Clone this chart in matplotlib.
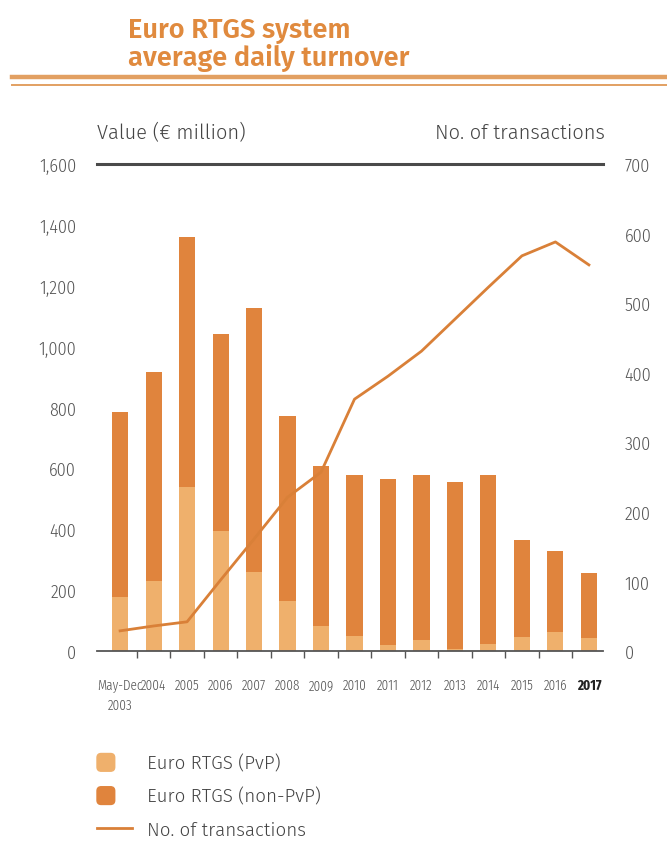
import matplotlib
matplotlib.use("Agg")
import matplotlib.pyplot as plt
from matplotlib.patches import Patch, FancyBboxPatch
from matplotlib.lines import Line2D
from matplotlib.legend_handler import HandlerPatch
import numpy as np

categories = ["May-Dec\n2003", "2004", "2005", "2006", "2007", "2008", "2009", "2010",
              "2011", "2012", "2013", "2014", "2015", "2016", "2017"]
total_value = [785, 917, 1360, 1041, 1127, 772, 608, 578, 565, 578, 555, 578, 365, 329, 256]
pvp_value = [177, 230, 539, 394, 259, 164, 82, 49, 20, 36, 8, 23, 46, 62, 43]
transactions = [29, 36, 42, 102, 161, 221, 257, 362, 395, 431, 477, 523, 568, 588, 555]
left_ticks = [0, 200, 400, 600, 800, 1000, 1200, 1400, 1600]
right_ticks = [0, 100, 200, 300, 400, 500, 600, 700]

non_pvp_value = [t - p for t, p in zip(total_value, pvp_value)]

C_PVP = "#EFB06C"
C_NON = "#E0843D"
C_LINE = "#D98038"
C_TITLE = "#E08A3E"
C_RULE = "#E2A062"
C_TXT = "#555555"

plt.rcParams["font.family"] = ["Fira Sans Condensed", "DejaVu Sans"]
F_TICK = dict(family=["Fira Sans Condensed", "DejaVu Sans"], weight=300)
F_XT = dict(family=["Fira Sans Extra Condensed", "DejaVu Sans"], weight=300)
F_LAB = dict(family=["Fira Sans", "DejaVu Sans"], weight=300)

fig = plt.figure(figsize=(6.67, 8.54), dpi=100)
ax = fig.add_axes([0.1454, 0.2365, 0.7586, 0.5703])

x = np.arange(len(categories))
w = 0.48
ax.bar(x, pvp_value, width=w, color=C_PVP, zorder=2)
ax.bar(x, non_pvp_value, width=w, bottom=pvp_value, color=C_NON, zorder=2)

ax.set_xlim(-0.69, len(categories) - 1 + 0.42)
ax.set_ylim(0, 1600)
ax.set_yticks(left_ticks)
ax.set_yticklabels([f"{v:,}" for v in left_ticks], **F_TICK)
ax.tick_params(axis="y", length=0, pad=15, labelsize=13, labelcolor=C_TXT)

ax.set_xticks(x)
ax.set_xticklabels(categories, linespacing=1.5, **F_XT)
ax.set_xticks(x[:-1] + 0.5, minor=True)
ax.tick_params(axis="x", which="major", length=0, pad=19, labelsize=10.3, labelcolor=C_TXT)
ax.tick_params(axis="x", which="minor", length=5, width=1.0, color="#555555", direction="out")
labs = ax.get_xticklabels()
labs[-1].set_fontweight("bold")
labs[-1].set_color("#222222")

for s in ["top", "left", "right"]:
    ax.spines[s].set_visible(False)
ax.spines["bottom"].set_color("#555555")
ax.spines["bottom"].set_linewidth(1.3)
ax.axhline(1600, color="#4A4A4A", lw=2.2, clip_on=False, zorder=3)

ax2 = ax.twinx()
ax2.plot(x, transactions, color=C_LINE, lw=2.0, zorder=4)
ax2.set_ylim(0, 700)
ax2.set_yticks(right_ticks)
ax2.set_yticklabels([str(v) for v in right_ticks], **F_TICK)
ax2.tick_params(axis="y", length=0, pad=15.5, labelsize=13, labelcolor=C_TXT)
for s in ["top", "left", "right", "bottom"]:
    ax2.spines[s].set_visible(False)

# axis titles
fig.text(97 / 667, 1 - 133 / 854, "Value (€ million)", fontsize=14.5, color="#444444",
         ha="left", va="center", **F_LAB)
fig.text(605 / 667, 1 - 133 / 854, "No. of transactions", fontsize=14.5, color="#444444",
         ha="right", va="center", **F_LAB)

# title block
F_TITLE = dict(family=["Fira Sans", "DejaVu Sans"], weight=600)
fig.text(128 / 667, 1 - 31 / 854, "Euro RTGS system", fontsize=19.6, color=C_TITLE,
         ha="left", va="center", **F_TITLE)
fig.text(128 / 667, 1 - 58 / 854, "average daily turnover", fontsize=19.6, color=C_TITLE,
         ha="left", va="center", **F_TITLE)
fig.add_artist(Line2D([12 / 667, 1], [1 - 78 / 854] * 2, color=C_RULE, lw=3.2,
                      transform=fig.transFigure))
fig.add_artist(Line2D([12 / 667, 1], [1 - 86 / 854] * 2, color=C_RULE, lw=1.4,
                      transform=fig.transFigure))


def square(legend, orig_handle, xdescent, ydescent, width, height, fontsize):
    s = height * 1.35
    return FancyBboxPatch((-xdescent, -ydescent - 0.2 * height), s * 1.0, s,
                          boxstyle="round,pad=0,rounding_size=3")


handles = [Patch(color=C_PVP, label="Euro RTGS (PvP)"),
           Patch(color=C_NON, label="Euro RTGS (non-PvP)"),
           Line2D([], [], color=C_LINE, lw=2.0, label="No. of transactions")]
leg = fig.legend(handles=handles, loc="upper left", bbox_to_anchor=(97 / 667, 1 - 755 / 854),
                 frameon=False, fontsize=13.5, handlelength=1.87, handletextpad=0.8,
                 borderpad=0, borderaxespad=0,
                 labelspacing=0.8, labelcolor="#444444",
                 handler_map={Patch: HandlerPatch(patch_func=square)})
for t in leg.get_texts():
    t.set_family(F_LAB["family"])
    t.set_fontweight(300)

fig.savefig("out.png", dpi=100)
